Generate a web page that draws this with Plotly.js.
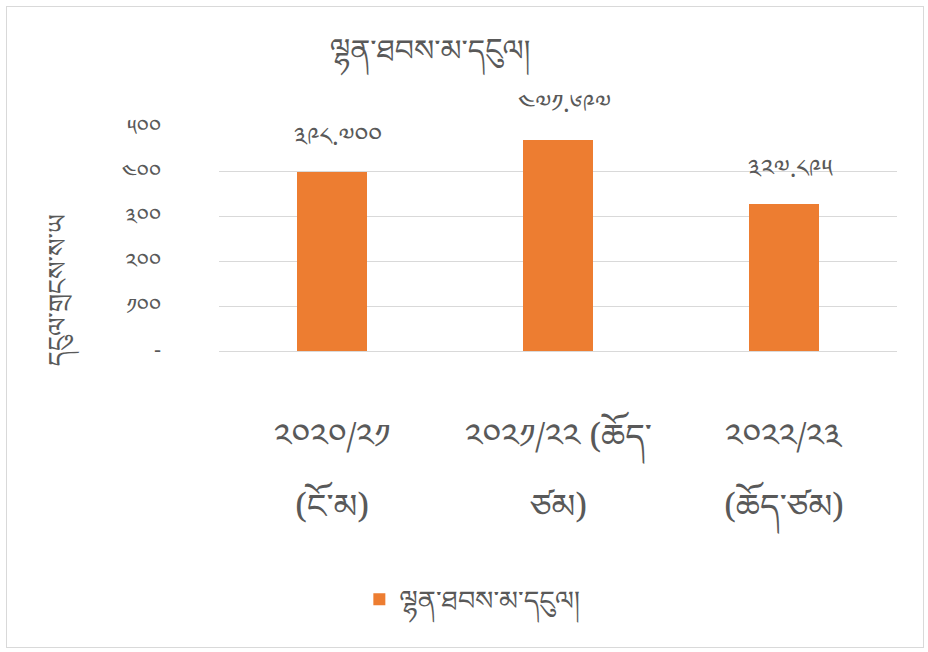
<!DOCTYPE html>
<html>
<head>
<meta charset="utf-8">
<script src="https://cdn.plot.ly/plotly-3.0.1.min.js"></script>
<style>
html,body{margin:0;padding:0;background:#fff;}
#frame{position:absolute;left:6px;top:6px;width:916px;height:640px;border:1px solid #d9d9d9;}
#chart{position:absolute;left:0;top:0;width:928px;height:652px;}
</style>
</head>
<body>
<div id="frame"></div>
<div id="chart"></div>
<script>
var categories = ["༢༠༢༠/༢༡ (ངོ་མ)", "༢༠༢༡/༢༢ (ཆོད་ཙམ)", "༢༠༢༢/༢༣ (ཆོད་ཙམ)"];
var labelLine1 = ["༢༠༢༠/༢༡", "༢༠༢༡/༢༢ (ཆོད་", "༢༠༢༢/༢༣"];
var labelLine2 = ["(ངོ་མ)", "ཙམ)", "(ཆོད་ཙམ)"];
var values = [398.700, 471.697, 327.895];
var valueLabels = ["༣༩༨.༧༠༠", "༤༧༡.༦༩༧", "༣༢༧.༨༩༥"];
var tickVals = [0, 100, 200, 300, 400, 500];
var tickText = ["-", "༡༠༠", "༢༠༠", "༣༠༠", "༤༠༠", "༥༠༠"];
var seriesName = "ལྷན་ཐབས་མ་དངུལ།";
var chartTitle = "ལྷན་ཐབས་མ་དངུལ།";
var yTitle = "དངུལ་གྲངས་ས་ཡ";

var FONT = '"Noto Serif Tibetan","Noto Sans Tibetan","Jomolhari","Microsoft Himalaya","DejaVu Sans",sans-serif';
var GREY = '#595959';

var trace = {
  type: 'bar',
  x: categories,
  y: values,
  name: seriesName,
  marker: {color: '#ED7D31'},
  width: 0.31,
  hoverinfo: 'none'
};

var annotations = [];
values.forEach(function(v, i){
  annotations.push({x: categories[i], y: v, xref: 'x', yref: 'y', text: valueLabels[i],
    showarrow: false, yanchor: 'middle', yshift: 29, xshift: 6,
    font: {family: FONT, size: 25, color: GREY}});
  annotations.push({x: categories[i], y: -0.425, xref: 'x', yref: 'paper', text: labelLine1[i],
    showarrow: false, yanchor: 'middle', font: {family: FONT, size: 34, color: GREY}});
  annotations.push({x: categories[i], y: -0.735, xref: 'x', yref: 'paper', text: labelLine2[i],
    showarrow: false, yanchor: 'middle', font: {family: FONT, size: 34, color: GREY}});
});
annotations.push({xref: 'paper', yref: 'paper', x: -0.227, y: 0.272, xanchor: 'center', yanchor: 'middle',
  text: yTitle, textangle: -90, showarrow: false,
  font: {family: FONT, size: 26, color: GREY}});

var layout = {
  width: 928, height: 652,
  paper_bgcolor: 'rgba(0,0,0,0)', plot_bgcolor: 'rgba(0,0,0,0)',
  margin: {l: 219, r: 31, t: 127, b: 301},
  title: {text: chartTitle, x: 430/928, xanchor: 'center', xref: 'container', y: 1 - 50/652, yref: 'container', yanchor: 'middle',
    font: {family: FONT, size: 30, color: GREY}},
  font: {family: FONT, color: GREY},
  xaxis: {type: 'category', showgrid: false, zeroline: false, showline: false, ticks: '',
    showticklabels: false, automargin: false},
  yaxis: {range: [0, 500], tickvals: tickVals, ticktext: tickText, showgrid: true,
    gridcolor: '#d9d9d9', gridwidth: 1, zeroline: true, zerolinecolor: '#d9d9d9', zerolinewidth: 1,
    showline: false, ticks: '', tickfont: {family: FONT, size: 22, color: GREY},
    ticklabelstandoff: 57, automargin: false},
  showlegend: true,
  legend: {orientation: 'h', x: 0.207, xanchor: 'left', y: -1.11, yanchor: 'middle',
    font: {family: FONT, size: 27, color: GREY}},
  annotations: annotations,
  bargap: 0
};

Plotly.newPlot('chart', [trace], layout, {displayModeBar: false, staticPlot: true});
</script>
</body>
</html>
